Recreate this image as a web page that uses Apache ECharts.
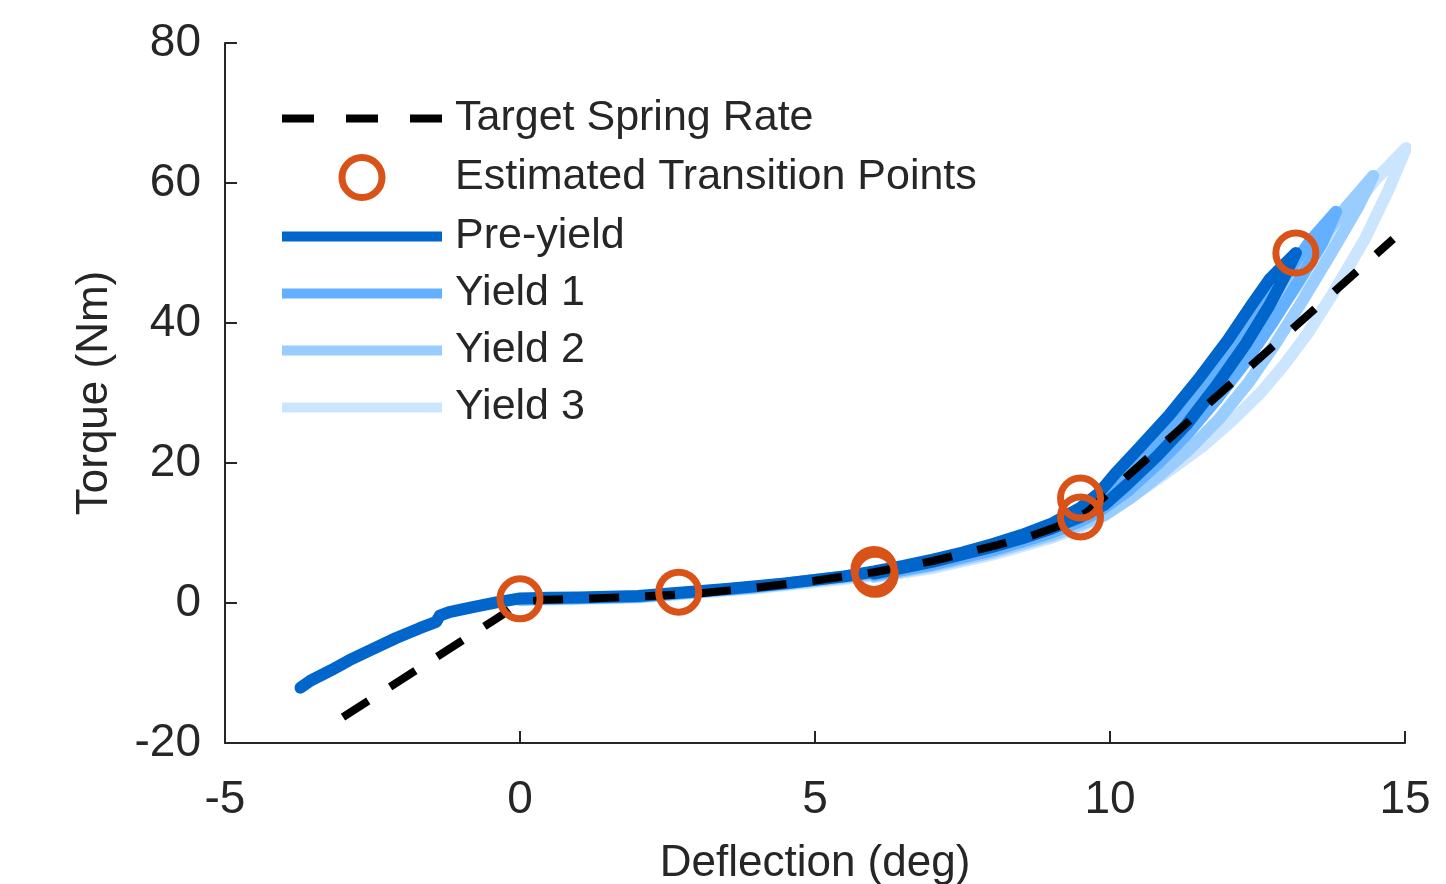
<!DOCTYPE html>
<html>
<head>
<meta charset="utf-8">
<script src="https://cdn.jsdelivr.net/npm/echarts@6/dist/echarts.min.js"></script>
<style>
html,body{margin:0;padding:0;background:#fff;}
#chart{width:1446px;height:884px;}
</style>
</head>
<body>
<div id="chart"></div>
<script>
// ---- data (deflection in deg, torque in Nm) ----
const xTicks = [-5, 0, 5, 10, 15];
const yTicks = [-20, 0, 20, 40, 60, 80];

const targetSpringRate = [[-3,-16.3],[-0.3,-1.7],[-0.1,-0.4],[0.1,0.2],[0.4,0.45],[1,0.6],[2,0.9],[3,1.35],[4,2.2],[5,3.2],[6,4.4],[7,6.0],[8,8.1],[8.6,9.4],[9.1,10.9],[9.6,12.9],[14.8,52]];

const transitionPoints = [[0,0.6],[2.69,1.55],[6.0,4.8],[6.02,4.1],[9.5,15.0],[9.5,12.3],[13.15,50]];

const preYield = [[-3.72,-12.1],[-3.55,-11.1],[-3.2,-9.6],[-2.9,-8.2],[-2.5,-6.6],[-2.1,-5.0],[-1.7,-3.6],[-1.42,-2.7],[-1.36,-1.8],[-1.2,-1.3],[-0.8,-0.6],[-0.4,0.1],[0,0.65],[0.5,0.75],[1,0.8],[1.5,0.9],[2,1.0],[2.7,1.45],[3.5,2.0],[4.5,2.8],[5.5,3.8],[6,4.5],[6.5,5.3],[7,6.2],[7.5,7.2],[8,8.4],[8.5,9.7],[9,11.3],[9.5,13.6],[9.8,15.6],[10.1,18.6],[10.5,22.2],[11,26.8],[11.5,32],[12,37.6],[12.4,42.6],[12.7,46.2],[13.15,50],[12.95,46.5],[12.7,42.5],[12.3,37],[11.8,31],[11.3,25.5],[10.8,21],[10.3,17],[9.9,14],[9.5,12.3],[9,10.6],[8.5,9.2],[8,8.0],[7,5.9],[6,4.2]];

const yield1 = [[0,0.5],[2,0.9],[4,2.3],[6,4.3],[7,5.9],[8,8.0],[9,10.8],[9.5,12.8],[10,16.5],[10.5,20.8],[11,25.3],[11.5,30],[12,35.3],[12.5,41],[13,47],[13.4,51.8],[13.83,55.9],[13.6,51.5],[13.2,46],[12.75,40],[12.3,34.5],[11.8,29],[11.3,24],[10.8,19.8],[10.3,16],[9.8,13],[9.5,11.7],[9,10],[8,7.5],[7,5.5],[6,4.0]];

const yield2 = [[0,0.5],[2,0.9],[4,2.2],[6,4.1],[7,5.6],[8,7.7],[9,10.5],[9.5,12.3],[10,15.6],[10.5,19.5],[11,24],[11.5,28.8],[12,34],[12.5,39.5],[13,45.5],[13.5,51],[14,56.5],[14.46,61],[14.2,56.5],[13.75,50],[13.25,43],[12.8,37],[12.35,31.5],[11.85,26.3],[11.35,22],[10.85,18.3],[10.35,15],[9.9,12.5],[9.5,11.2],[9,9.6],[8,7.2],[7,5.3],[6,3.8]];

const yield3 = [[0,0.4],[2,0.8],[4,2.1],[6,3.9],[7,5.4],[8,7.4],[9,10.1],[9.5,11.8],[10,14.8],[10.5,18.5],[11,22.7],[11.5,27.3],[12,32.3],[12.5,37.6],[13,43.3],[13.5,49],[14,55],[14.5,60.5],[15.02,65],[14.72,59],[14.32,52],[13.8,44.5],[13.35,38.5],[12.95,34],[12.55,30],[12.1,26.3],[11.6,22.6],[11.05,19.2],[10.6,16.5],[10.25,14.5],[9.9,12.5],[9.5,10.8],[9,9.3],[8,6.9],[7,5.0],[6,3.7]];

const seriesNames = ['Target Spring Rate','Estimated Transition Points','Pre-yield','Yield 1','Yield 2','Yield 3'];
const colors = {target:'#000000', points:'#D95319', pre:'#0066CC', y1:'#62B0FF', y2:'#99CCFF', y3:'#CCE5FF'};

const FONT = '"Liberation Sans", Arial, Helvetica, sans-serif';
const TXT = '#262626';

const chart = echarts.init(document.getElementById('chart'), null, {renderer:'canvas'});

function blueLine(name, data, color, z) {
  return {
    name: name, type:'line', data: data, z: z,
    symbol:'none', showSymbol:false, smooth:false, clip:false,
    lineStyle:{color:color, width:12, cap:'round', join:'round'},
    itemStyle:{color:color},
    emphasis:{disabled:true}
  };
}

const hiddenSym = {opacity:0};

chart.setOption({
  animation:false,
  backgroundColor:'#ffffff',
  grid:{left:225, right:41, top:43, bottom:141, containLabel:false, outerBoundsMode:'none'},
  xAxis:{
    type:'value', min:-5, max:15, interval:5,
    name:'Deflection (deg)', nameLocation:'middle', nameGap:99,
    nameTextStyle:{fontSize:44, color:TXT, fontFamily:FONT},
    axisLine:{show:true, onZero:false, lineStyle:{color:TXT, width:2}},
    axisTick:{show:true, inside:true, length:12, lineStyle:{color:TXT, width:2}},
    axisLabel:{fontSize:46, color:TXT, fontFamily:FONT, margin:34,
      formatter:v => xTicks.includes(v) ? String(v) : ''},
    splitLine:{show:false}
  },
  yAxis:{
    type:'value', min:-20, max:80, interval:20,
    name:'Torque (Nm)', nameLocation:'middle', nameGap:108,
    nameTextStyle:{fontSize:44, color:TXT, fontFamily:FONT},
    axisLine:{show:true, onZero:false, lineStyle:{color:TXT, width:2}},
    axisTick:{show:true, inside:true, length:12, lineStyle:{color:TXT, width:2}},
    axisLabel:{fontSize:46, color:TXT, fontFamily:FONT, margin:24, padding:[6,0,0,0],
      formatter:v => yTicks.includes(v) ? String(v) : ''},
    splitLine:{show:false}
  },
  legend:{
    show:true, orient:'vertical', left:272, top:92,
    itemWidth:160, itemHeight:40, itemGap:14,
    selectedMode:false,
    textStyle:{fontSize:43, color:TXT, fontFamily:FONT, padding:[0,0,0,8]},
    data:[
      {name:seriesNames[0], itemStyle:hiddenSym, lineStyle:{width:8, type:[32,32], cap:'butt'}},
      {name:seriesNames[1], itemStyle:{borderWidth:7, color:'rgba(0,0,0,0)', borderColor:colors.points, opacity:1}},
      {name:seriesNames[2], itemStyle:hiddenSym, lineStyle:{width:10, cap:'butt'}},
      {name:seriesNames[3], itemStyle:hiddenSym, lineStyle:{width:10, cap:'butt'}},
      {name:seriesNames[4], itemStyle:hiddenSym, lineStyle:{width:10, cap:'butt'}},
      {name:seriesNames[5], itemStyle:hiddenSym, lineStyle:{width:10, cap:'butt'}}
    ]
  },
  series:[
    blueLine(seriesNames[5], yield3, colors.y3, 1),
    blueLine(seriesNames[4], yield2, colors.y2, 2),
    blueLine(seriesNames[3], yield1, colors.y1, 3),
    blueLine(seriesNames[2], preYield, colors.pre, 4),
    {
      name:seriesNames[0], type:'line', data:targetSpringRate, z:5,
      symbol:'none', showSymbol:false, smooth:false,
      lineStyle:{color:colors.target, width:8, type:[30,26], cap:'butt'},
      itemStyle:{color:colors.target},
      emphasis:{disabled:true}
    },
    {
      name:seriesNames[1], type:'scatter', data:transitionPoints, z:6,
      symbol:'circle', symbolSize:40,
      itemStyle:{color:'rgba(0,0,0,0)', borderColor:colors.points, borderWidth:7, opacity:1},
      emphasis:{disabled:true}
    }
  ]
});
</script>
</body>
</html>
